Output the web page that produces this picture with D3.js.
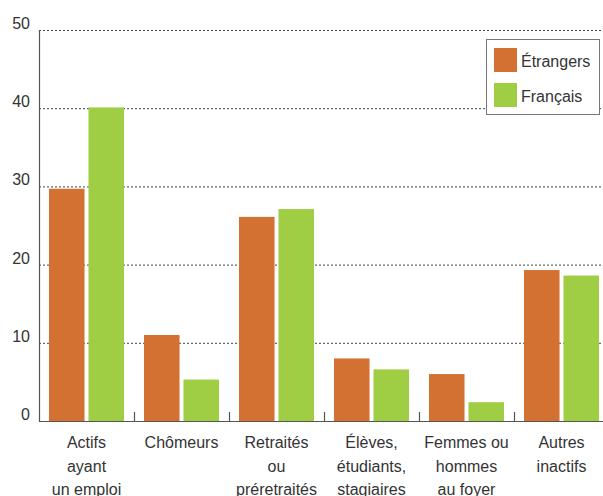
<!DOCTYPE html>
<html>
<head>
<meta charset="utf-8">
<script src="https://cdn.jsdelivr.net/npm/d3@7"></script>
<style>
  body { margin: 0; background: #fff; }
  text { font-family: "Liberation Sans Narrow", "Liberation Sans", Arial, sans-serif; fill: #333; }
</style>
</head>
<body>
<div id="chart"></div>
<script>
// categories (multi-line labels)
var categories = [
  ["Actifs", "ayant", "un emploi"],
  ["Chômeurs"],
  ["Retraités", "ou", "préretraités"],
  ["Élèves,", "étudiants,", "stagiaires"],
  ["Femmes ou", "hommes", "au foyer"],
  ["Autres", "inactifs"]
];
var seriesNames = ["Étrangers", "Français"];
var etrangers = [29.7, 11.0, 26.1, 8.0, 6.0, 19.3];
var francais = [40.1, 5.3, 27.1, 6.6, 2.4, 18.6];
var yTicks = [0, 10, 20, 30, 40, 50];

var w = 603, h = 496;
var mLeft = 39, mTop = 30, mBottom = 421;
var color = d3.scaleOrdinal().domain(seriesNames).range(["#D37132", "#9FCD44"]);

var svg = d3.select("#chart").append("svg")
  .attr("width", w)
  .attr("height", h);

var x = d3.scaleBand()
  .domain(d3.range(categories.length))
  .range([mLeft, mLeft + 95 * categories.length])
  .paddingInner(0)
  .paddingOuter(0);

var x1 = d3.scaleBand()
  .domain(seriesNames)
  .range([10, 85])
  .paddingInner(0.1);

var y = d3.scaleLinear().domain([0, 50]).range([mBottom, mTop]);

// gridlines
svg.append("g")
  .selectAll("line")
  .data(yTicks.filter(function(d) { return d > 0; }))
  .enter().append("line")
  .attr("x1", mLeft)
  .attr("x2", w)
  .attr("y1", function(d) { return y(d) + 0.5; })
  .attr("y2", function(d) { return y(d) + 0.5; })
  .attr("stroke", "#444")
  .attr("stroke-width", 1)
  .attr("stroke-dasharray", "2,2");

// y tick labels
svg.append("g")
  .selectAll("text")
  .data(yTicks)
  .enter().append("text")
  .attr("x", 30)
  .attr("y", function(d) { return y(d) - 1; })
  .attr("text-anchor", "end")
  .style("font-size", "16px")
  .text(function(d) { return d; });

// bars
var data = categories.map(function(c, i) {
  return { i: i, values: [
    { key: "Étrangers", value: etrangers[i] },
    { key: "Français", value: francais[i] }
  ]};
});

var groups = svg.append("g")
  .selectAll("g")
  .data(data)
  .enter().append("g")
  .attr("transform", function(d) { return "translate(" + x(d.i) + ",0)"; });

groups.selectAll("rect")
  .data(function(d) { return d.values; })
  .enter().append("rect")
  .attr("x", function(d) { return x1(d.key); })
  .attr("width", x1.bandwidth())
  .attr("y", function(d) { return y(d.value); })
  .attr("height", function(d) { return mBottom - y(d.value); })
  .attr("fill", function(d) { return color(d.key); });

// axes
svg.append("line")
  .attr("x1", mLeft + 0.5).attr("x2", mLeft + 0.5)
  .attr("y1", mTop).attr("y2", mBottom + 1)
  .attr("stroke", "#555").attr("stroke-width", 1.2);

svg.append("line")
  .attr("x1", mLeft).attr("x2", w)
  .attr("y1", mBottom + 0.5).attr("y2", mBottom + 0.5)
  .attr("stroke", "#555").attr("stroke-width", 1.2);

// category separator ticks
svg.append("g")
  .selectAll("line")
  .data(d3.range(1, categories.length))
  .enter().append("line")
  .attr("x1", function(d) { return x(d) + 0.5; })
  .attr("x2", function(d) { return x(d) + 0.5; })
  .attr("y1", mBottom - 9)
  .attr("y2", mBottom)
  .attr("stroke", "#555")
  .attr("stroke-width", 1.2);

// category labels
var labels = svg.append("g")
  .selectAll("text")
  .data(categories)
  .enter().append("text")
  .attr("text-anchor", "middle")
  .style("font-size", "16px")
  .attr("transform", function(d, i) {
    return "translate(" + (x(i) + x.bandwidth() / 2) + "," + 448 + ")";
  });

labels.selectAll("tspan")
  .data(function(d) { return d; })
  .enter().append("tspan")
  .attr("x", 0)
  .attr("y", function(d, i) { return i * 23.5; })
  .text(function(d) { return d; });

// legend
var legend = svg.append("g").attr("transform", "translate(486,39)");
legend.append("rect")
  .attr("x", 0.5).attr("y", 0.5)
  .attr("width", 113).attr("height", 75)
  .attr("fill", "#fff")
  .attr("stroke", "#777");

var li = legend.selectAll(".li")
  .data(seriesNames)
  .enter().append("g")
  .attr("class", "li")
  .attr("transform", function(d, i) { return "translate(8," + (9 + i * 35) + ")"; });

li.append("rect")
  .attr("width", 23).attr("height", 24)
  .attr("fill", function(d) { return color(d); });

li.append("text")
  .attr("x", 27)
  .attr("y", 19)
  .style("font-size", "16px")
  .text(function(d) { return d; });
</script>
</body>
</html>
